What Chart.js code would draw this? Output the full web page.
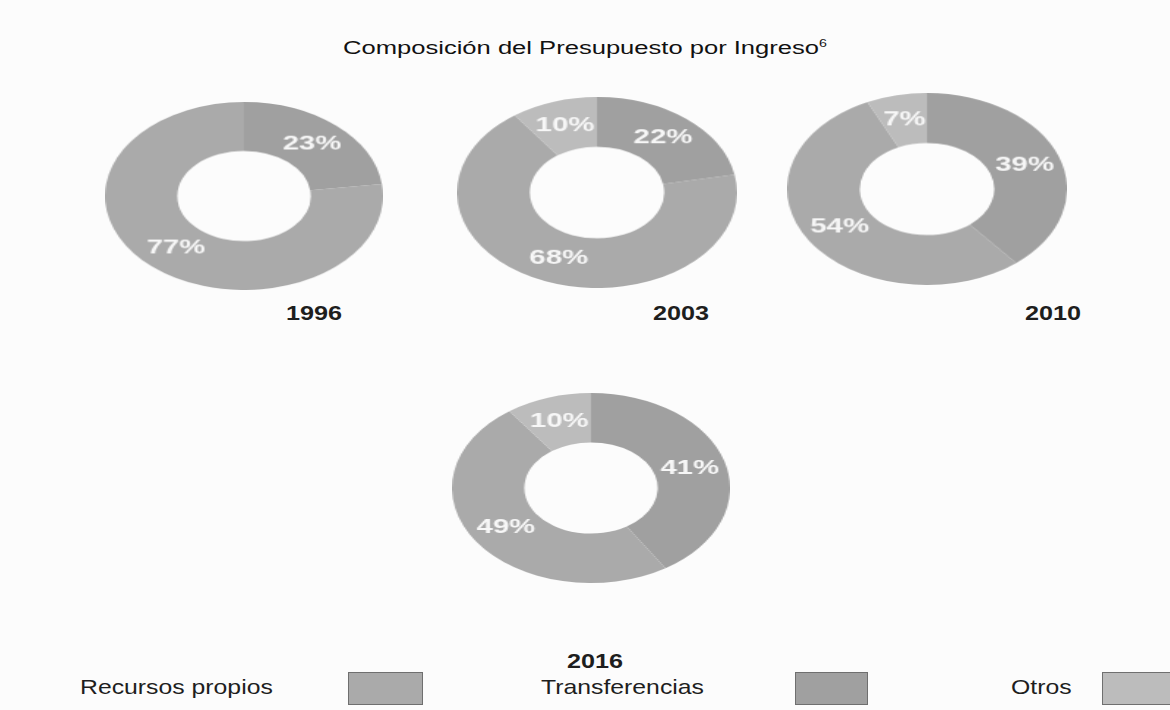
<!DOCTYPE html>
<html lang="es">
<head>
<meta charset="utf-8">
<title>Composición del Presupuesto por Ingreso</title>
<script src="https://cdn.jsdelivr.net/npm/chart.js@4.4.1/dist/chart.umd.min.js"></script>
<style>
  html, body { margin: 0; padding: 0; background: #fcfcfc; }
  body {
    width: 1170px; height: 710px; position: relative; overflow: hidden;
    font-family: "Liberation Sans", Arial, sans-serif; color: #1e1e1e;
  }
  .txt { position: absolute; white-space: nowrap; line-height: 1; }
  .title { left: 585px; top: 39px; font-size: 18px; color: #111; transform: translateX(-50%) scaleX(1.42); }
  .title sup { font-size: 10px; vertical-align: 7px; }
  .year { top: 302px; font-size: 21px; font-weight: bold; transform: translateX(-50%) scaleX(1.2); }
  .donut { position: absolute; }
  .leg { top: 676px; font-size: 21px; transform-origin: left center; transform: scaleX(1.18); }
  .box { position: absolute; top: 672px; height: 33px; border: 1px solid #6f6f6f; box-sizing: border-box; }
</style>
</head>
<body>

<div class="txt title">Composición del Presupuesto por Ingreso<sup>6</sup></div>

<canvas id="c0" class="donut" width="190" height="190" style="left:105px; top:102px; width:278px; height:188px;"></canvas>
<canvas id="c1" class="donut" width="190" height="190" style="left:457px; top:97px; width:280px; height:191px;"></canvas>
<canvas id="c2" class="donut" width="190" height="190" style="left:787px; top:93px; width:280px; height:192px;"></canvas>
<canvas id="c3" class="donut" width="190" height="190" style="left:452px; top:393px; width:278px; height:190px;"></canvas>

<div id="y0" class="txt year" style="left:314px;"></div>
<div id="y1" class="txt year" style="left:681px;"></div>
<div id="y2" class="txt year" style="left:1053px;"></div>
<div id="y3" class="txt year" style="left:595px; top:650px;"></div>

<div id="l0" class="txt leg" style="left:80px;"></div>
<div id="b0" class="box" style="left:348px; width:75px;"></div>
<div id="l1" class="txt leg" style="left:541px;"></div>
<div id="b1" class="box" style="left:795px; width:73px;"></div>
<div id="l2" class="txt leg" style="left:1011px;"></div>
<div id="b2" class="box" style="left:1102px; width:72px;"></div>

<script>
const years = ["1996", "2003", "2010", "2016"];
const categories = ["Recursos propios", "Transferencias", "Otros"];
const recursosPropios = [77, 68, 54, 49];
const transferencias = [23, 22, 39, 41];
const otros = [0, 10, 7, 10];
const colors = ["#aaaaaa", "#a0a0a0", "#bcbcbc"];

// slices go clockwise from 12 o'clock: Transferencias, Recursos propios, Otros
const drawOrder = [1, 0, 2];
const series = [recursosPropios, transferencias, otros];

// percentage text on each slice (no datalabels plugin available offline)
const sliceLabels = {
  id: "sliceLabels",
  afterDatasetsDraw(chart) {
    const ctx = chart.ctx;
    const data = chart.data.datasets[0].data;
    ctx.save();
    ctx.font = "bold 20px 'Liberation Sans', Arial, sans-serif";
    ctx.fillStyle = "#f7f7f7";
    ctx.textAlign = "center";
    ctx.textBaseline = "middle";
    chart.getDatasetMeta(0).data.forEach((arc, i) => {
      if (!data[i]) return;
      const p = arc.tooltipPosition();
      ctx.fillText(data[i] + "%", p.x, p.y);
    });
    ctx.restore();
  }
};

years.forEach((year, k) => {
  document.getElementById("y" + k).textContent = year;
  new Chart(document.getElementById("c" + k), {
    type: "doughnut",
    data: {
      labels: drawOrder.map(i => categories[i]),
      datasets: [{
        data: drawOrder.map(i => series[i][k]),
        backgroundColor: drawOrder.map(i => colors[i]),
        borderWidth: 0
      }]
    },
    options: {
      responsive: false,
      animation: false,
      cutout: "48%",
      layout: { padding: 0 },
      plugins: {
        legend: { display: false },
        tooltip: { enabled: false }
      }
    },
    plugins: [sliceLabels]
  });
});

categories.forEach((name, i) => {
  document.getElementById("l" + i).textContent = name;
  document.getElementById("b" + i).style.background = colors[i];
});
</script>
</body>
</html>
